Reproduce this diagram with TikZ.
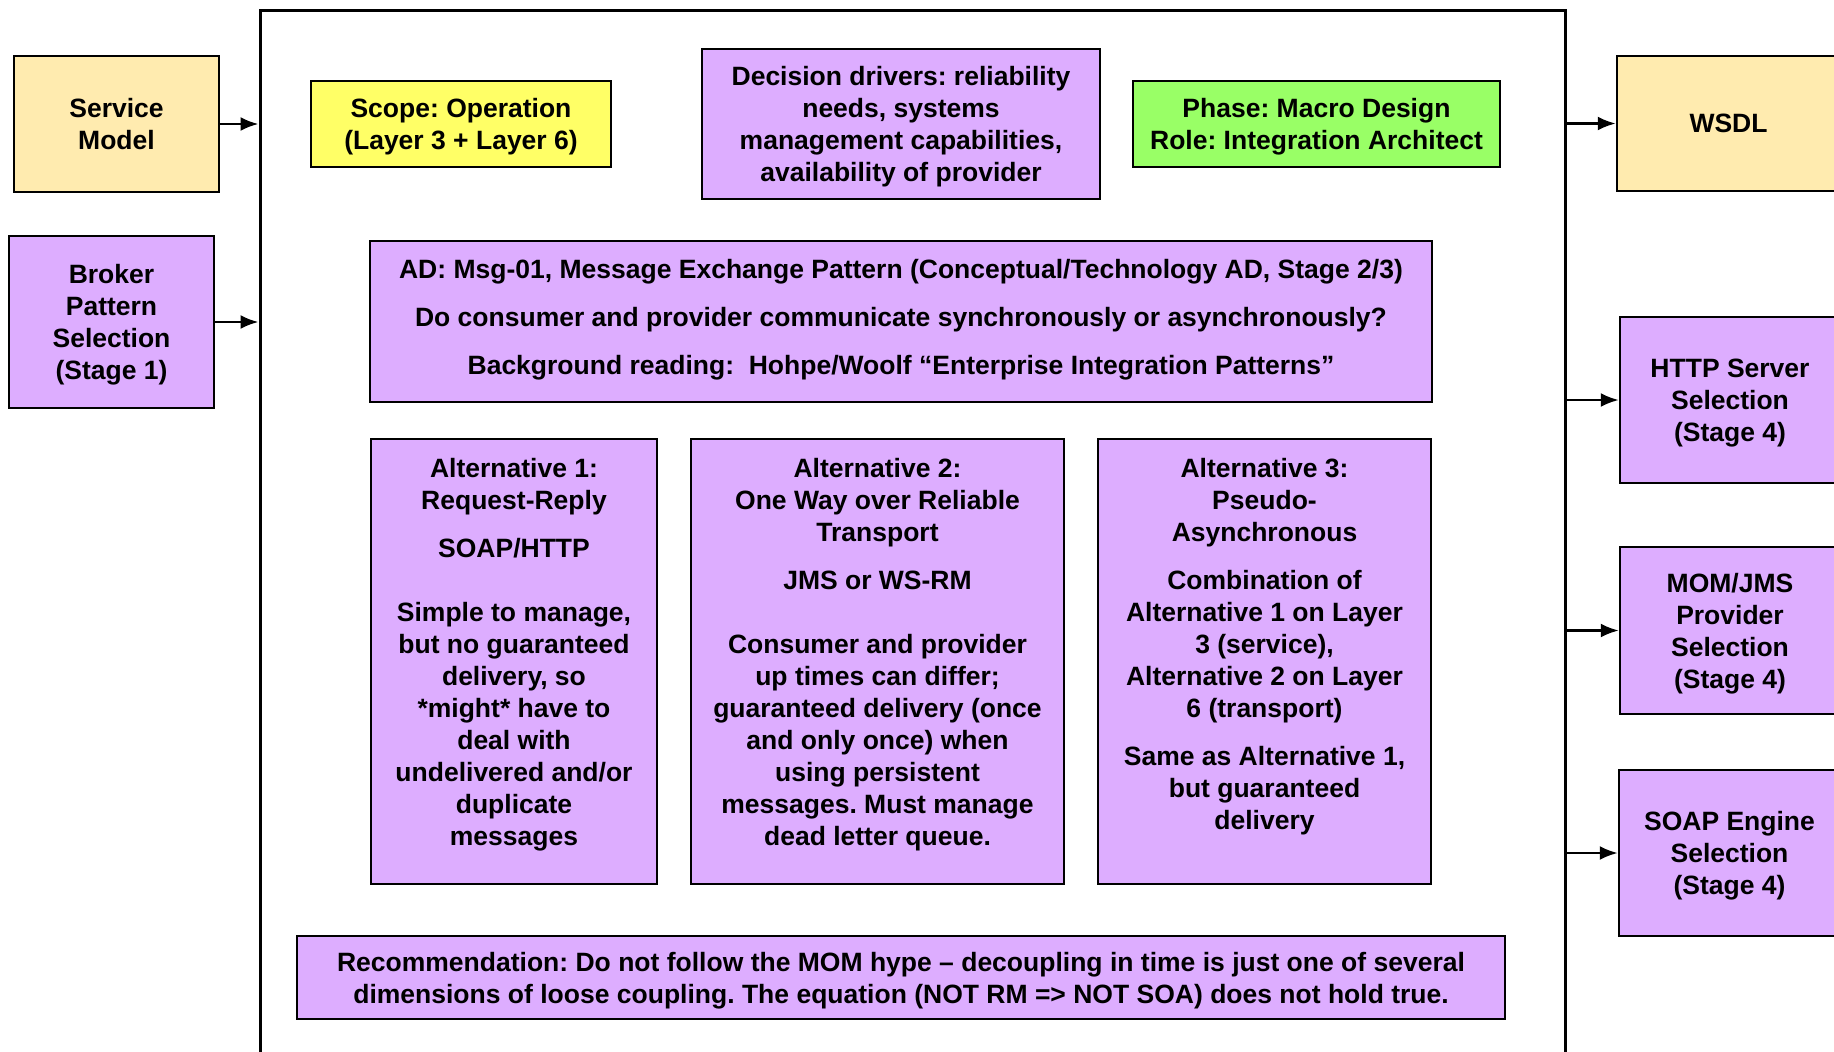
\documentclass[tikz,border=0pt]{standalone}
\usepackage{fontspec}
\setmainfont{Liberation Sans}
\usetikzlibrary{arrows.meta}
\frenchspacing

\definecolor{lavender}{RGB}{221,173,255}
\definecolor{svctan}{RGB}{255,235,175}
\definecolor{scopeyellow}{RGB}{255,255,102}
\definecolor{phasegreen}{RGB}{153,255,102}

\tikzset{
  box/.style={draw=black, line width=2.4pt, fill=lavender, inner sep=0pt,
    text depth=0pt, align=center, font=\bfseries\fontsize{26.5}{32}\selectfont},
  plain/.style={inner sep=0pt, align=center, font=\bfseries\fontsize{26.5}{32}\selectfont},
  conn/.style={line width=2.6pt, -{Latex[length=18pt,width=14pt]}},
  frame/.style={draw=black, line width=3pt, inner sep=0pt}
}

\begin{document}
\begin{tikzpicture}[x=1pt,y=-1pt]
\useasboundingbox (0,0) rectangle (1834,1052);
\clip (0,0) rectangle (1834,1052);
\fill[white] (0,0) rectangle (1834,1052);

% enclosing decision frame (continues below the page)
\node[frame, minimum width=1305, minimum height=1090] (frame) at (912.5,555) {};

% inputs on the left
\node[box, fill=svctan, minimum width=205, minimum height=136] (sm) at (116.5,124) {Service\\Model};
\node[box, minimum width=205, minimum height=172] (broker) at (111.5,322) {Broker\\Pattern\\Selection\\(Stage 1)};

% header row
\node[box, fill=scopeyellow, minimum width=300, minimum height=86] (scope) at (461,124) {Scope: Operation\\(Layer 3 + Layer 6)};
\node[box, minimum width=398, minimum height=150] (drivers) at (901,124) {Decision drivers: reliability\\needs, systems\\management capabilities,\\availability of provider};
\node[box, fill=phasegreen, minimum width=367, minimum height=86] (phase) at (1316.5,124) {Phase: Macro Design\\Role: Integration Architect};

% architectural decision
\node[box, text depth=9pt, minimum width=1062, minimum height=161] (ad) at (901,321.5) {AD: Msg-01, Message Exchange Pattern (Conceptual/Technology AD, Stage 2/3)\\[16pt]Do consumer and provider communicate synchronously or asynchronously?\\[16pt]Background reading:~ Hohpe/Woolf “Enterprise Integration Patterns”};

% alternatives
\node[box, minimum width=286, minimum height=445] (alt1) at (514,661.5) {};
\node[box, minimum width=373, minimum height=445] (alt2) at (877.5,661.5) {};
\node[box, minimum width=333, minimum height=445] (alt3) at (1264.5,661.5) {};

\node[plain, anchor=north] (alt1txt) at (514,458) {Alternative 1:\\Request-Reply\\[16pt]SOAP/HTTP\\[32pt]Simple to manage,\\but no guaranteed\\delivery, so\\*might* have to\\deal with\\undelivered and/or\\duplicate\\messages};
\node[plain, anchor=north] (alt2txt) at (877.5,458) {Alternative 2:\\One Way over Reliable\\Transport\\[16pt]JMS or WS-RM\\[32pt]Consumer and provider\\up times can differ;\\guaranteed delivery (once\\and only once) when\\using persistent\\messages. Must manage\\dead letter queue.};
\node[plain, anchor=north] (alt3txt) at (1264.5,458) {Alternative 3:\\Pseudo-\\Asynchronous\\[16pt]Combination of\\Alternative 1 on Layer\\3 (service),\\Alternative 2 on Layer\\6 (transport)\\[16pt]Same as Alternative 1,\\but guaranteed\\delivery};

% recommendation
\node[box, minimum width=1208, minimum height=83] (rec) at (901,977.5) {Recommendation: Do not follow the MOM hype – decoupling in time is just one of several\\dimensions of loose coupling. The equation (NOT RM => NOT SOA) does not hold true.};

% outputs on the right
\node[box, fill=svctan, minimum width=223, minimum height=135] (wsdl) at (1728.5,123.5) {WSDL};
\node[box, minimum width=220, minimum height=166] (http) at (1730,400) {HTTP Server\\Selection\\(Stage 4)};
\node[box, minimum width=220, minimum height=167] (mom) at (1730,630.5) {MOM/JMS\\Provider\\Selection\\(Stage 4)};
\node[box, minimum width=221, minimum height=166] (soap) at (1729.5,853) {SOAP Engine\\Selection\\(Stage 4)};

% connectors
\draw[conn] (sm.east) -- (sm.east -| frame.west);
\draw[conn] (broker.east) -- (broker.east -| frame.west);
\draw[conn] (wsdl.west -| frame.east) -- (wsdl.west);
\draw[conn] (http.west -| frame.east) -- (http.west);
\draw[conn] (mom.west -| frame.east) -- (mom.west);
\draw[conn] (soap.west -| frame.east) -- (soap.west);
\end{tikzpicture}
\end{document}
